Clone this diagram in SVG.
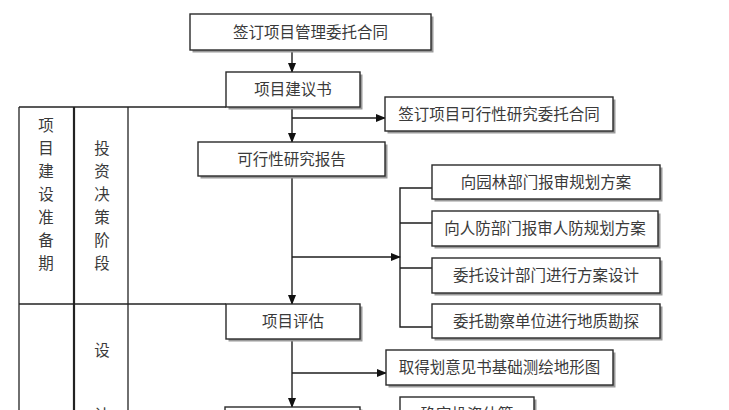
<svg xmlns="http://www.w3.org/2000/svg" width="729" height="410" viewBox="0 0 729 410">
<defs>
<style>
.box{fill:#fff;stroke:#2a2a2a;stroke-width:1.4}
.sh{fill:#9a9a9a}
.t{font-family:"Noto Sans CJK SC","Noto Sans CJK TC",sans-serif;font-size:15.5px;fill:#3a3a3a;text-anchor:middle}
.ln{stroke:#1e1e1e;stroke-width:1.4;fill:none}
.tb{stroke:#222;stroke-width:1.3;fill:none}
</style>
<marker id="ah" markerWidth="10" markerHeight="8" refX="9" refY="4" orient="auto" markerUnits="userSpaceOnUse">
<path d="M0,0 L10,4 L0,8 Z" fill="#111"/>
</marker>
</defs>
<rect width="729" height="410" fill="#fff"/>

<g id="table">
<line class="tb" x1="19" y1="107" x2="226" y2="107"/>
<line class="tb" x1="19" y1="304" x2="226" y2="304"/>
<line class="tb" x1="19" y1="107" x2="19" y2="410"/>
<line class="tb" x1="74" y1="107" x2="74" y2="410" style="stroke-width:2.2"/>
<line class="tb" x1="128" y1="107" x2="128" y2="410"/>
</g>
<g id="label-phase1">
<text class="t" x="46" y="131">项</text>
<text class="t" x="46" y="154">目</text>
<text class="t" x="46" y="177">建</text>
<text class="t" x="46" y="200">设</text>
<text class="t" x="46" y="223">准</text>
<text class="t" x="46" y="246">备</text>
<text class="t" x="46" y="269">期</text>
</g>
<g id="label-phase2">
<text class="t" x="102" y="154">投</text>
<text class="t" x="102" y="177">资</text>
<text class="t" x="102" y="200">决</text>
<text class="t" x="102" y="223">策</text>
<text class="t" x="102" y="246">阶</text>
<text class="t" x="102" y="269">段</text>
</g>
<g id="label-phase3">
<text class="t" x="102" y="356">设</text>
<text class="t" x="102" y="421">计</text>
</g>

<g id="connectors">
<line class="ln" x1="292" y1="50" x2="292" y2="72" marker-end="url(#ah)"/>
<line class="ln" x1="292" y1="107" x2="292" y2="142" marker-end="url(#ah)"/>
<line class="ln" x1="292" y1="118" x2="385" y2="118" marker-end="url(#ah)"/>
<line class="ln" x1="292" y1="176" x2="292" y2="304" marker-end="url(#ah)"/>
<line class="ln" x1="292" y1="257" x2="400" y2="257" marker-end="url(#ah)"/>
<path class="ln" d="M432,188 H400 V327 H432 M400,223 H432 M400,268 H432"/>
<line class="ln" x1="292" y1="339" x2="292" y2="407" marker-end="url(#ah)"/>
<line class="ln" x1="292" y1="373" x2="386" y2="373" marker-end="url(#ah)"/>
</g>

<g id="n1">
<rect class="sh" x="192.5" y="16.5" width="241" height="36"/>
<rect class="box" x="190" y="14" width="241" height="36"/>
<text class="t" x="310.5" y="37.5">签订项目管理委托合同</text>
</g>
<g id="n2">
<rect class="sh" x="228.5" y="74.5" width="134" height="35"/>
<rect class="box" x="226" y="72" width="134" height="35"/>
<text class="t" x="293" y="95">项目建议书</text>
</g>
<g id="n3">
<rect class="sh" x="387.5" y="99.5" width="228" height="34"/>
<rect class="box" x="385" y="97" width="228" height="34"/>
<text class="t" x="499" y="119.5">签订项目可行性研究委托合同</text>
</g>
<g id="n4">
<rect class="sh" x="200.5" y="144.5" width="187" height="34"/>
<rect class="box" x="198" y="142" width="187" height="34"/>
<text class="t" x="291.5" y="164.5">可行性研究报告</text>
</g>
<g id="n5">
<rect class="sh" x="434.5" y="167.5" width="228" height="34"/>
<rect class="box" x="432" y="165" width="228" height="34"/>
<text class="t" x="546" y="187.5">向园林部门报审规划方案</text>
</g>
<g id="n6">
<rect class="sh" x="434.5" y="213.5" width="226" height="35"/>
<rect class="box" x="432" y="211" width="226" height="35"/>
<text class="t" x="545" y="234">向人防部门报审人防规划方案</text>
</g>
<g id="n7">
<rect class="sh" x="434.5" y="260.5" width="228" height="35"/>
<rect class="box" x="432" y="258" width="228" height="35"/>
<text class="t" x="546" y="281">委托设计部门进行方案设计</text>
</g>
<g id="n8">
<rect class="sh" x="434.5" y="306.5" width="228" height="34"/>
<rect class="box" x="432" y="304" width="228" height="34"/>
<text class="t" x="546" y="326.5">委托勘察单位进行地质勘探</text>
</g>
<g id="n9">
<rect class="sh" x="228.5" y="306.5" width="134" height="35"/>
<rect class="box" x="226" y="304" width="134" height="35"/>
<text class="t" x="293" y="327">项目评估</text>
</g>
<g id="n10">
<rect class="sh" x="388.5" y="352.5" width="227" height="35"/>
<rect class="box" x="386" y="350" width="227" height="35"/>
<text class="t" x="499.5" y="373">取得划意见书基础测绘地形图</text>
</g>
<g id="n11">
<rect class="sh" x="227.5" y="409.5" width="135" height="35"/>
<rect class="box" x="225" y="407" width="135" height="35"/>
</g>
<g id="n12">
<rect class="sh" x="402.5" y="399.5" width="134" height="35"/>
<rect class="box" x="400" y="397" width="134" height="35"/>
<text class="t" x="467" y="419.5">确定投资估算</text>
</g>
</svg>
